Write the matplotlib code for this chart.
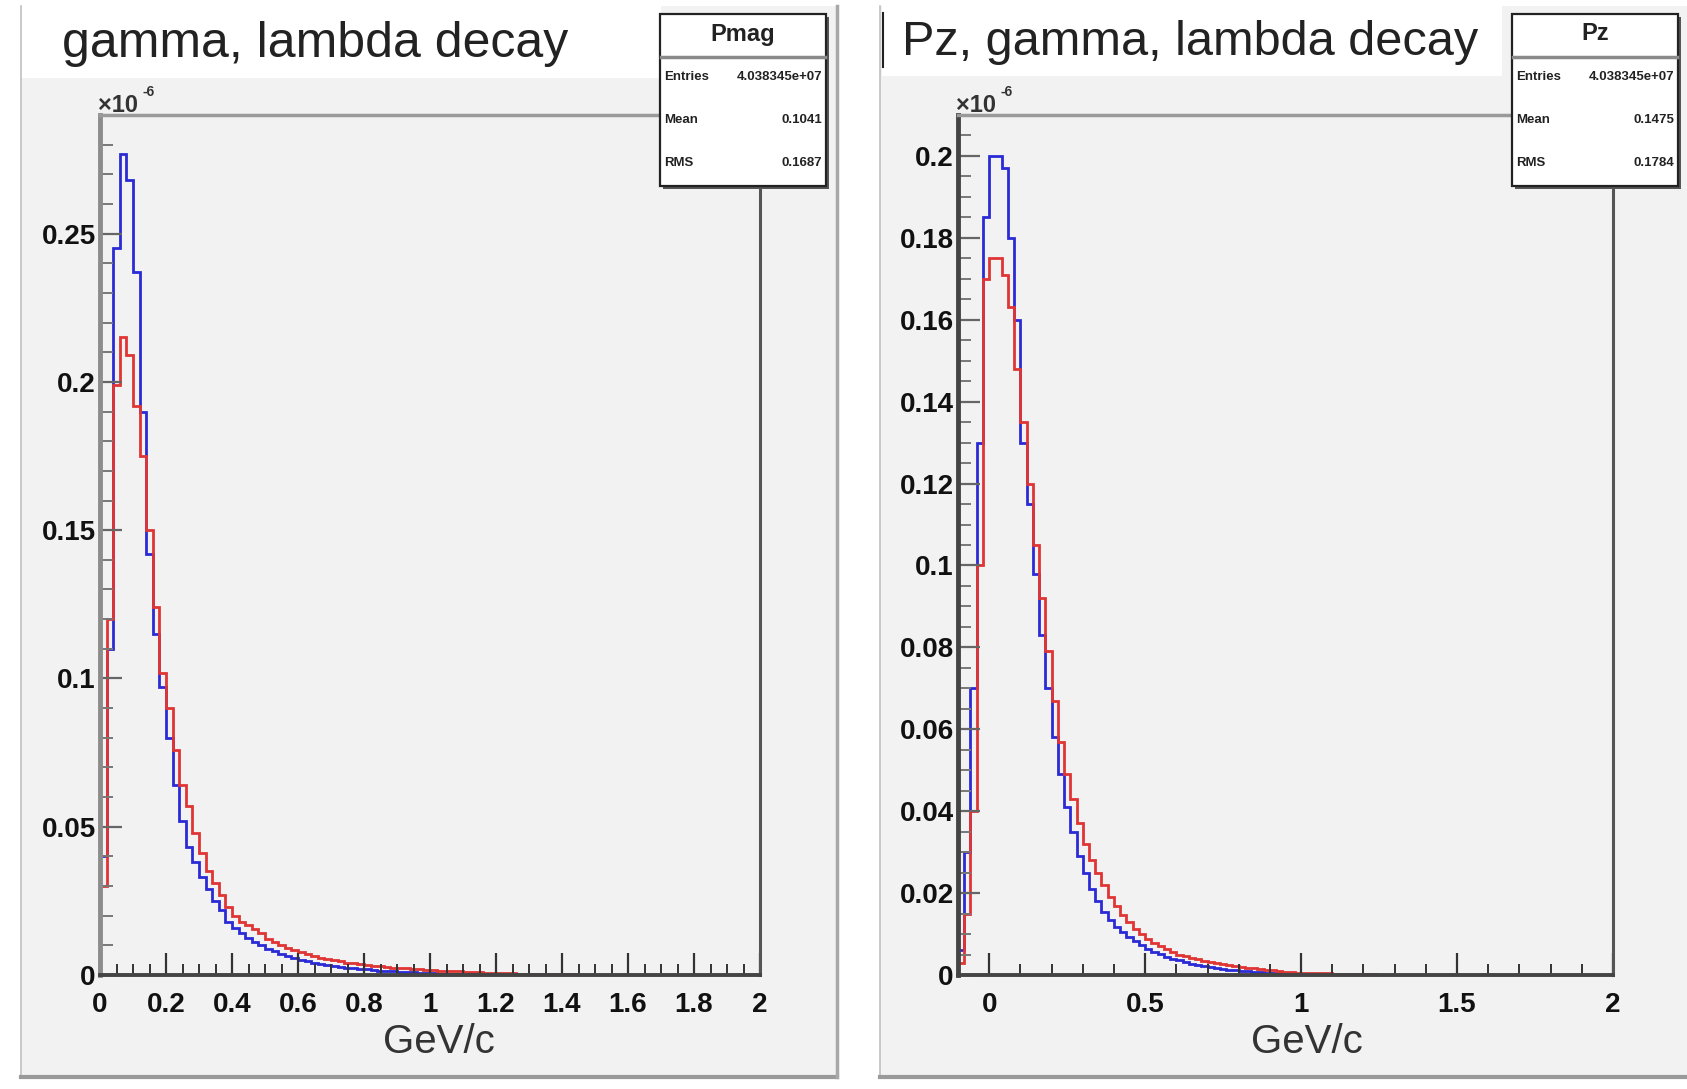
import numpy as np
import matplotlib; matplotlib.use("Agg")
import matplotlib.pyplot as plt
from matplotlib.patches import Rectangle
from matplotlib.ticker import MultipleLocator, FuncFormatter

plt.rcParams.update({"font.family": ["Liberation Sans", "DejaVu Sans"]})

W, H = 1687, 1089
PAD = "#f2f2f2"; BLUE = "#2b2bd6"; RED = "#e03535"; INK = "#222222"

# left: |p|, 0.02 GeV/c bins on [0, 2]   (units of 1e-6)
pmag_edges = np.linspace(0.0, 2.0, 101)
pmag_blue = [0.040, 0.110, 0.245, 0.277, 0.268, 0.237, 0.190, 0.142, 0.115, 0.097,
             0.080, 0.064, 0.052, 0.043, 0.038, 0.033, 0.029, 0.025, 0.022, 0.018,
             0.0158, 0.0140, 0.0125, 0.0112, 0.0100, 0.0089, 0.0080, 0.0072, 0.0065, 0.0058,
             0.0052, 0.0047, 0.0042, 0.0038, 0.0034, 0.0031, 0.0028, 0.0025, 0.0023, 0.0021,
             0.0019, 0.0017, 0.0015, 0.0014, 0.0012, 0.0011, 0.0010, 0.0009, 0.0008, 0.0007,
             0.0006, 0.0005, 0.0005, 0.0004, 0.0004, 0.0003, 0.0003, 0.0003, 0.0002, 0.0002,
             0.0002, 0.0001, 0.0001, 0.0001, 0.0001] + [0.0] * 35
pmag_red = [0.030, 0.120, 0.199, 0.215, 0.209, 0.192, 0.175, 0.150, 0.124, 0.102,
            0.090, 0.076, 0.064, 0.057, 0.048, 0.041, 0.035, 0.031, 0.027, 0.023,
            0.020, 0.018, 0.017, 0.0155, 0.0140, 0.0123, 0.0111, 0.0101, 0.0092, 0.0084,
            0.0077, 0.0070, 0.0064, 0.0059, 0.0054, 0.0050, 0.0046, 0.0042, 0.0039, 0.0036,
            0.0033, 0.0031, 0.0029, 0.0027, 0.0025, 0.0023, 0.0022, 0.0021, 0.0019, 0.0018,
            0.0016, 0.0015, 0.0014, 0.0013, 0.0012, 0.0011, 0.0010, 0.0009, 0.0008, 0.0008,
            0.0007, 0.0006, 0.0006, 0.0005, 0.0005, 0.0004, 0.0004, 0.0003, 0.0003, 0.0002,
            0.0002, 0.0002, 0.0001, 0.0001, 0.0001, 0.0001, 0.0001, 0.0001, 0.0001, 0.0001] + [0.0] * 20

# right: pz, 0.02 GeV/c bins on [-0.1, 2]
pz_edges = np.linspace(-0.1, 2.0, 106)
pz_blue = [0.006, 0.030, 0.070, 0.130, 0.185, 0.200, 0.200, 0.197, 0.180, 0.160,
           0.130, 0.115, 0.098, 0.083, 0.070, 0.058, 0.049, 0.041, 0.035, 0.029,
           0.025, 0.021, 0.018, 0.0155, 0.0135, 0.0118, 0.0104, 0.0092, 0.0082, 0.0073,
           0.0064, 0.0057, 0.0051, 0.0045, 0.0040, 0.0036, 0.0032, 0.0028, 0.0025, 0.0022,
           0.0019, 0.0017, 0.0015, 0.0013, 0.0012, 0.0010, 0.0009, 0.0008, 0.0007, 0.0006,
           0.0005, 0.0004, 0.0004, 0.0003, 0.0003, 0.0002, 0.0002, 0.0001, 0.0001, 0.0001] + [0.0] * 45
pz_red = [0.003, 0.015, 0.040, 0.100, 0.170, 0.175, 0.175, 0.171, 0.163, 0.148,
          0.135, 0.120, 0.105, 0.092, 0.079, 0.067, 0.057, 0.049, 0.043, 0.037,
          0.032, 0.028, 0.025, 0.022, 0.019, 0.0168, 0.0147, 0.0129, 0.0113, 0.0100,
          0.0088, 0.0078, 0.0070, 0.0063, 0.0056, 0.0050, 0.0046, 0.0042, 0.0038, 0.0035,
          0.0032, 0.0029, 0.0027, 0.0024, 0.0022, 0.0020, 0.0018, 0.0016, 0.0014, 0.0013,
          0.0011, 0.0009, 0.0008, 0.0007, 0.0006, 0.0006, 0.0005, 0.0005, 0.0004, 0.0004,
          0.0003, 0.0003, 0.0003, 0.0002, 0.0002, 0.0002, 0.0002, 0.0001, 0.0001, 0.0001] + [0.0] * 35

titles = ["gamma, lambda decay", "Pz, gamma, lambda decay"]
stat_names = ["Pmag", "Pz"]
stat_entries = ["4.038345e+07", "4.038345e+07"]
stat_mean = ["0.1041", "0.1475"]
stat_rms = ["0.1687", "0.1784"]

fig = plt.figure(figsize=(W / 100, H / 100), dpi=100, facecolor="white")
bg = fig.add_axes([0, 0, 1, 1], zorder=0); bg.set_xlim(0, W); bg.set_ylim(H, 0); bg.axis("off")
fg = fig.add_axes([0, 0, 1, 1], zorder=5); fg.set_xlim(0, W); fg.set_ylim(H, 0); fg.axis("off")
fg.patch.set_alpha(0)

# pads, ROOT style
for x0, x1 in [(21, 837), (880, 1700)]:
    bg.add_patch(Rectangle((x0, 6), x1 - x0, 1071, fc=PAD, ec="none"))
    bg.plot([x0, x0], [6, 1077], color="#c0c0c0", lw=1.2)
    bg.plot([x0, x1], [1077, 1077], color="#9a9a9a", lw=3)
bg.plot([837, 837], [6, 1077], color="#a8a8a8", lw=2.5)
bg.add_patch(Rectangle((21, 4), 640, 74, fc="white", ec="none"))
bg.add_patch(Rectangle((882, 4), 620, 72, fc="white", ec="none"))
bg.plot([883, 883], [13, 67], color=INK, lw=1.5)
bg.text(62, 57, titles[0], fontsize=36, color=INK)
bg.text(902, 55, titles[1], fontsize=35, color=INK)

fmt = FuncFormatter(lambda v, _: f"{v:g}")
specs = [
    (ax_l := fig.add_axes([100 / W, 1 - 975 / H, 660 / W, 860 / H], zorder=1),
     pmag_edges, pmag_blue, pmag_red, (0, 2), (0, 0.29), 0.2, 0.05, 0.05, 0.01, "#8c8c8c", 439),
    (ax_r := fig.add_axes([958 / W, 1 - 975 / H, 655 / W, 860 / H], zorder=1),
     pz_edges, pz_blue, pz_red, (-0.1, 2), (0, 0.21), 0.5, 0.1, 0.02, 0.005, "#444444", 1307),
]
for ax, edges, vb, vr, xl, yl, xM, xm, yM, ym, lcol, xlab in specs:
    ax.patch.set_alpha(0)
    ax.stairs(vb, edges, color=BLUE, lw=2.0, baseline=None)
    ax.stairs(vr, edges, color=RED, lw=2.0, baseline=None)
    ax.set_xlim(*xl); ax.set_ylim(*yl)
    ax.xaxis.set_major_locator(MultipleLocator(xM)); ax.xaxis.set_minor_locator(MultipleLocator(xm))
    ax.yaxis.set_major_locator(MultipleLocator(yM)); ax.yaxis.set_minor_locator(MultipleLocator(ym))
    ax.xaxis.set_major_formatter(fmt); ax.yaxis.set_major_formatter(fmt)
    ax.tick_params(axis="x", which="major", direction="in", length=16, width=1.6, color="#333333", pad=12)
    ax.tick_params(axis="x", which="minor", direction="in", length=8, width=1.4, color="#333333")
    ax.tick_params(axis="y", which="major", direction="in", length=16, width=1.6, color="#666666", pad=3)
    ax.tick_params(axis="y", which="minor", direction="in", length=9, width=1.4, color="#777777")
    for lab in ax.get_xticklabels() + ax.get_yticklabels():
        lab.set_fontsize(20); lab.set_fontweight("bold"); lab.set_color("#111111")
    ax.spines["left"].set(color=lcol, lw=3.5)
    ax.spines["top"].set(color="#9a9a9a", lw=2.5)
    ax.spines["right"].set(color="#555555", lw=2.2)
    ax.spines["bottom"].set(color="#444444", lw=2.8)
    fg.text(xlab, 1042, "GeV/c", fontsize=29, ha="center", va="center", color="#333333")

for x0 in (100, 958):
    fg.text(x0 - 2, 112, "×10", fontsize=17, fontweight="bold", color="#333333")
    fg.text(x0 + 43, 96, "-6", fontsize=10, fontweight="bold", color="#333333")

# stat boxes
for i, (x0, x1) in enumerate([(660, 826), (1512, 1678)]):
    y0, y1 = 14, 186
    fg.add_patch(Rectangle((x0 + 3, y0 + 3), x1 - x0, y1 - y0, fc="#555555", ec="none"))
    fg.add_patch(Rectangle((x0, y0), x1 - x0, y1 - y0, fc="white", ec=INK, lw=1.6))
    fg.plot([x0 + 1, x1 - 1], [y0 + 43, y0 + 43], color="#8a8a8a", lw=2.5)
    fg.text((x0 + x1) / 2, y0 + 20, stat_names[i], fontsize=17, fontweight="bold",
            ha="center", va="center", color=INK)
    rows = [("Entries", stat_entries[i]), ("Mean", stat_mean[i]), ("RMS", stat_rms[i])]
    for k, (lab, val) in enumerate(rows):
        yy = y0 + 63 + 43 * k
        fg.text(x0 + 4, yy, lab, fontsize=9.5, fontweight="bold", va="center", color=INK)
        fg.text(x1 - 4, yy, val, fontsize=9.5, fontweight="bold", va="center", ha="right", color=INK)

fig.savefig("out.png", dpi=100, facecolor="white")
